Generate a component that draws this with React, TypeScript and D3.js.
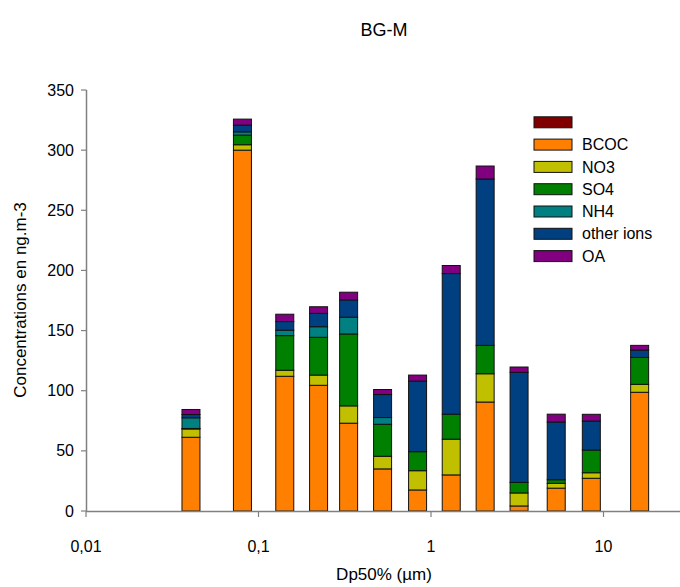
import React from "react";
import * as d3 from "d3";

const sizes = [0.0406, 0.0807, 0.142, 0.223, 0.333, 0.524, 0.836, 1.31, 2.06, 3.24, 5.32, 8.5, 16.2];
const BCOC = [61.3, 300, 112, 104.5, 73, 35, 17.5, 30, 90.6, 4.2, 19, 27.2, 98.7];
const NO3 = [6.9, 4.5, 5, 8.5, 14.4, 10.5, 16, 29.7, 23.5, 10.8, 4, 4.6, 6.6];
const SO4 = [0.4, 8, 28.8, 31.4, 59.8, 26.6, 15.8, 20.8, 23.6, 8.8, 3, 18.9, 22.4];
const NH4 = [8.9, 2.7, 4.5, 8.8, 13.9, 5.6, 0, 0, 0, 0, 0, 0, 0];
const otherIons = [2.7, 5.6, 7.2, 11.1, 14.4, 19.1, 58.7, 116.9, 138.3, 91.5, 48, 24.1, 6.1];
const OA = [4.2, 5, 6.1, 5.5, 6.4, 4.2, 5, 6.7, 10.8, 4.4, 6.5, 5.6, 3.9];

const seriesNames = ["BCOC", "NO3", "SO4", "NH4", "other ions", "OA"];
const seriesValues = [BCOC, NO3, SO4, NH4, otherIons, OA];
const seriesColors = ["#FF8000", "#C0C000", "#008000", "#008080", "#004080", "#800080"];

const legendNames = ["", "BCOC", "NO3", "SO4", "NH4", "other ions", "OA"];
const legendColors = ["#800000", "#FF8000", "#C0C000", "#008000", "#008080", "#004080", "#800080"];

const yTicks = [0, 50, 100, 150, 200, 250, 300, 350];
const xTicks = [0.01, 0.1, 1, 10];
const xTickLabels = ["0,01", "0,1", "1", "10"];

const W = 680;
const H = 587;
const FONT = "Liberation Sans, Arial, sans-serif";

export default function App() {
  const x = d3.scaleLog().domain([0.01, 30]).range([86, 86 + 172.5 * Math.log10(3000)]);
  const y = d3.scaleLinear().domain([0, 350]).range([511, 90]);
  const barW = 18;

  const rows = sizes.map((s, i) => {
    const o: any = { size: s };
    seriesNames.forEach((n, k) => (o[n] = seriesValues[k][i]));
    return o;
  });
  const stack = d3.stack<any>().keys(seriesNames)(rows);
  const axisColor = "#808080";

  return (
    <svg width={W} height={H} style={{ position: "absolute", left: 0, top: 0, background: "#fff" }} fontFamily={FONT}>
      <text x={384} y={36} textAnchor="middle" fontSize={18}>BG-M</text>

      {stack.map((layer, k) =>
        layer.map((d, i) => {
          const h = y(d[0]) - y(d[1]);
          if (h <= 0.01) return null;
          return (
            <rect
              key={k + "-" + i}
              x={x(sizes[i]) - barW / 2}
              y={y(d[1])}
              width={barW}
              height={h}
              fill={seriesColors[k]}
              stroke="#111"
              strokeWidth={1}
            />
          );
        })
      )}

      {/* Y axis */}
      <line x1={86.5} x2={86.5} y1={90} y2={512} stroke={axisColor} strokeWidth={1.5} />
      {yTicks.map((t) => (
        <g key={t}>
          <line x1={81} x2={86.5} y1={y(t)} y2={y(t)} stroke={axisColor} strokeWidth={1.2} />
          <text x={74} y={y(t)} dy="0.35em" textAnchor="end" fontSize={16}>{t}</text>
        </g>
      ))}
      {/* X axis */}
      <line x1={86} x2={W} y1={511.5} y2={511.5} stroke={axisColor} strokeWidth={1.5} />
      {xTicks.map((t, i) => (
        <g key={t}>
          <line x1={x(t)} x2={x(t)} y1={511.5} y2={517} stroke={axisColor} strokeWidth={1.2} />
          <text x={x(t)} y={546} dy="0.35em" textAnchor="middle" fontSize={16}>{xTickLabels[i]}</text>
        </g>
      ))}
      <text x={384} y={580} textAnchor="middle" fontSize={17}>Dp50% (µm)</text>
      <text transform={`translate(26,300) rotate(-90)`} textAnchor="middle" fontSize={17}>Concentrations en ng.m-3</text>

      {/* Legend */}
      {legendNames.map((n, i) => (
        <g key={i} transform={`translate(534,${122.3 + i * 22.3})`}>
          <rect x={0} y={-5.5} width={38} height={11} fill={legendColors[i]} stroke="#111" strokeWidth={1} />
          <text x={48} y={0} dy="0.35em" fontSize={16}>{n}</text>
        </g>
      ))}
    </svg>
  );
}
